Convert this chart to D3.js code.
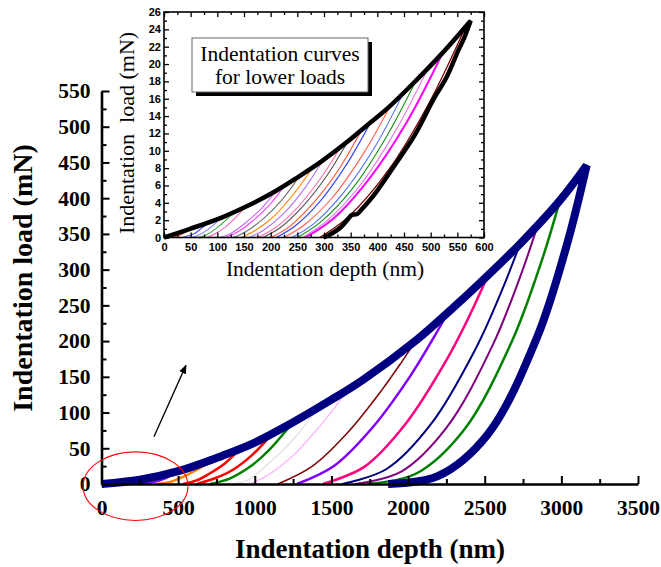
<!DOCTYPE html>
<html>
<head>
<meta charset="utf-8">
<script src="https://cdn.jsdelivr.net/npm/d3@7"></script>
<style>
  body { margin: 0; background: #fff; }
  svg { display: block; }
</style>
</head>
<body>
<svg id="chart" width="661" height="567"></svg>
<script>
// ---------- main chart: full-range indentation curves (depth nm, load mN) ----------
const mainTicksX = [0, 500, 1000, 1500, 2000, 2500, 3000, 3500];
const mainMinorX = [250, 750, 1250, 1750, 2250, 2750, 3250];
const mainTicksY = [0, 50, 100, 150, 200, 250, 300, 350, 400, 450, 500, 550];
const mainMinorY = [25, 75, 125, 175, 225, 275, 325, 375, 425, 475, 525];

// loading branch of the largest cycle
const mainLoading = [[0,0],[250,6],[500,18],[793,40],[1000,58],[1230,84],[1500,118],[1707,146],[2052,201],[2260,240],[2521,292],[2730,336],[2991,397],[3165,446]];
// unloading branch of the largest cycle (peak first)
const mainMaxUnload = [[3165,446],[3036,335],[2841,205],[2518,69],[2194,11],[1870,0]];

// unloading branches of the partial cycles, back to front
const mainUnloads = [
  [[960,0],[1066,10],[1250,40],[1420,80],[1540,112],[1600,132]],
  [[860,0],[950,5],[1066,24],[1250,62],[1393,100],[1440,110]],
  [[40,0],[100,1],[150,2.5],[190,4.5]],
  [[90,0],[160,2],[220,4],[270,7]],
  [[150,0],[210,1.5],[280,4.5],[340,9]],
  [[200,0],[270,2],[350,6],[420,13]],
  [[250,0],[330,2],[420,8],[500,18]],
  [[362,0],[450,3],[532,10],[640,22],[740,36]],
  [[533,0],[620,5],[708,15],[800,28],[890,46]],
  [[622,0],[740,8],[858,20],[980,40],[1100,67]],
  [[708,0],[840,8],[968,24],[1086,46],[1240,84]],
  [[1151,0],[1376,25],[1602,71],[1827,131],[1962,172],[2052,201]],
  [[1275,0],[1521,26],[1768,79],[2014,151],[2162,203],[2260,240]],
  [[1445,0],[1714,24],[1983,84],[2252,174],[2413,241],[2521,292]],
  [[1570,0],[1860,21],[2150,84],[2440,189],[2614,272],[2730,336]],
  [[1654,0],[1952,17],[2251,79],[2549,193],[2728,288],[2847,363]],
  [[1732,0],[2047,14],[2362,75],[2676,199],[2865,308],[2991,397]]
];
const mainColors = ["#ffb4ff","#e2e2e2","#c00000","#ff0000","#4040ff","#800080","#8000ff","#ff8000","#ff0000","#ff0000","#008000","#800000","#8000ff","#ff0080","#000080","#800080","#008000"];
const mainWidths = [1.3,1.3,1.5,2,1.5,2,2,2.5,2.5,2.5,2.5,1.5,2.5,2.5,2,2,2.5];

// ---------- inset: low-load curves ----------
const insetTicksX = [0,50,100,150,200,250,300,350,400,450,500,550,600];
const insetMinorX = [25,75,125,175,225,275,325,375,425,475,525,575];
const insetTicksY = [0,2,4,6,8,10,12,14,16,18,20,22,24,26];
const insetMinorY = [1,3,5,7,9,11,13,15,17,19,21,23,25];

const insetLoading = [[0,0],[49,1.0],[108,2.3],[155,3.6],[208,5.3],[252,7.0],[298,8.9],[343,11.0],[386,13.2],[421,15.0],[471,18.0],[521,21.2],[575,25]];
const insetMaxUnload = [[575,25],[562,22.9],[552,21.6],[530,18.5],[505,15.9],[470,11.8],[430,8.1],[395,5.0],[370,3.2],[362,2.7],[352,2.6],[346,2.2],[330,1.1],[310,0.3],[299,0]];

const insetUnloads = [
  [[15,0],[22,0.1],[31,0.3],[40,0.6],[49,1.0]],
  [[35,0],[45,0.2],[58,0.5],[71,1.1],[83,1.7]],
  [[50,0],[62,0.2],[77,0.7],[94,1.5],[108,2.3]],
  [[65,0],[79,0.3],[97,1.0],[116,2.0],[133,3.1]],
  [[80,0],[95,0.4],[115,1.2],[136,2.4],[155,3.7]],
  [[105,0],[126,0.5],[153,1.7],[182,3.3],[208,5.2]],
  [[115,0],[137,0.6],[166,1.9],[197,3.7],[224,5.8]],
  [[130,0],[154,0.7],[187,2.2],[222,4.4],[252,6.9]],
  [[145,0],[171,0.8],[207,2.5],[244,5.1],[277,7.9]],
  [[160,0],[188,0.9],[225,2.8],[264,5.7],[298,8.9]],
  [[175,0],[206,1.0],[248,3.3],[291,6.6],[330,10.3]],
  [[185,0],[217,1.1],[259,3.5],[304,7.0],[343,10.9]],
  [[200,0],[234,1.2],[279,3.9],[326,7.7],[368,12.1]],
  [[210,0],[245,1.3],[293,4.2],[342,8.4],[386,13.1]],
  [[225,0],[264,1.5],[317,4.7],[372,9.5],[421,14.8]],
  [[240,0],[281,1.6],[337,5.2],[395,10.4],[446,16.3]],
  [[250,0],[294,1.8],[354,5.7],[416,11.5],[471,17.9]],
  [[260,0],[307,2.0],[370,6.2],[436,12.5],[495,19.5]],
  [[265,0],[316,2.1],[385,6.8],[457,13.5],[521,21.1]],
  [[292,0],[346,2.4],[420,7.7],[496,15.4],[564,24.1]]
];
const insetColors = ["#ff5050","#5050ff","#9090ff","#40a040","#ff60c0","#c070e0","#ff40ff","#707070","#ff8000","#b070ff","#ff70b0","#505050","#ff5030","#3040ff","#ff6050","#5070ff","#109010","#e070e0","#ff00ff","#800000"];
const insetWidths = [1.1,1.1,1.1,1.1,1.1,1.1,1.1,1.1,1.1,1.1,1.1,1.1,1.1,1.1,1.1,1.1,1.1,1.1,2,1.3];

// ---------- drawing ----------
const serif = "'Liberation Serif','Times New Roman',Times,serif";
const sans = "'Liberation Sans',Arial,Helvetica,sans-serif";
const svg = d3.select("#chart");

const x = d3.scaleLinear().domain([0, 3500]).range([101.5, 638]);
const y = d3.scaleLinear().domain([0, 550]).range([484, 91]);
const mainLine = d3.line().x(d => x(d[0])).y(d => y(d[1])).curve(d3.curveCatmullRom.alpha(0.5));

const gMain = svg.append("g");
mainUnloads.forEach((pts, i) => {
  gMain.append("path").attr("d", mainLine(pts)).attr("fill", "none")
    .attr("stroke", mainColors[i]).attr("stroke-width", mainWidths[i]);
});
// largest cycle drawn last, as one path with a sharp corner at the peak
gMain.append("path")
  .attr("d", mainLine(mainLoading) + mainLine(mainMaxUnload).replace(/^M/, "L"))
  .attr("fill", "none").attr("stroke", "#000080").attr("stroke-width", 8)
  .attr("stroke-linejoin", "miter").attr("stroke-miterlimit", 3);

// main axes, ticks pointing inward
function styleAxis(g, lw) {
  g.select(".domain").attr("stroke", "#000").attr("stroke-width", lw);
  g.selectAll(".tick line").attr("stroke", "#000").attr("stroke-width", 2);
}
const xAxisG = gMain.append("g").attr("transform", `translate(0,${y(0)})`)
  .call(d3.axisBottom(x).tickValues(mainTicksX).tickSizeInner(-8).tickSizeOuter(0).tickPadding(16).tickFormat(d3.format("d")));
styleAxis(xAxisG, 2.6);
gMain.append("g").attr("transform", `translate(0,${y(0)})`)
  .call(d3.axisBottom(x).tickValues(mainMinorX).tickSizeInner(-5).tickSizeOuter(0).tickFormat(""))
  .call(g => { g.select(".domain").remove(); g.selectAll(".tick line").attr("stroke", "#000").attr("stroke-width", 2); });

const yAxisG = gMain.append("g").attr("transform", `translate(${x(0)},0)`)
  .call(d3.axisLeft(y).tickValues(mainTicksY).tickSizeInner(-8).tickSizeOuter(0).tickPadding(11).tickFormat(d3.format("d")));
styleAxis(yAxisG, 2.6);
gMain.append("g").attr("transform", `translate(${x(0)},0)`)
  .call(d3.axisLeft(y).tickValues(mainMinorY).tickSizeInner(-5).tickSizeOuter(0).tickFormat(""))
  .call(g => { g.select(".domain").remove(); g.selectAll(".tick line").attr("stroke", "#000").attr("stroke-width", 2); });

[xAxisG, yAxisG].forEach(g => g.selectAll(".tick text")
  .attr("font-family", serif).attr("font-weight", "bold").attr("font-size", 21.5).attr("fill", "#000"));

svg.append("text").attr("x", 370).attr("y", 558).attr("text-anchor", "middle")
  .attr("font-family", serif).attr("font-weight", "bold").attr("font-size", 27)
  .text("Indentation depth (nm)");
svg.append("text").attr("transform", "translate(32,278) rotate(-90)").attr("text-anchor", "middle")
  .attr("font-family", serif).attr("font-weight", "bold").attr("font-size", 28)
  .text("Indentation load (mN)");

// arrow pointing from the low-load region up to the inset
const defs = svg.append("defs");
defs.append("marker").attr("id", "head").attr("viewBox", "0 0 10 10").attr("refX", 9).attr("refY", 5)
  .attr("markerWidth", 9).attr("markerHeight", 9).attr("markerUnits", "userSpaceOnUse").attr("orient", "auto")
  .append("path").attr("d", "M0,1 L10,5 L0,9 Z").attr("fill", "#000");
svg.append("line").attr("x1", x(342)).attr("y1", y(66)).attr("x2", x(551)).attr("y2", y(166))
  .attr("stroke", "#000").attr("stroke-width", 1.3).attr("marker-end", "url(#head)");

// ellipse around the low-load region
svg.append("ellipse").attr("cx", x(222)).attr("cy", y(-3))
  .attr("rx", x(222 + 342) - x(222)).attr("ry", y(-3) - y(45))
  .attr("fill", "none").attr("stroke", "#ff0000").attr("stroke-width", 1.1);

// ---------- inset ----------
const xi = d3.scaleLinear().domain([0, 600]).range([164, 484]);
const yi = d3.scaleLinear().domain([0, 26]).range([237.5, 12]);
const insetLine = d3.line().x(d => xi(d[0])).y(d => yi(d[1])).curve(d3.curveCatmullRom.alpha(0.5));

const gIn = svg.append("g");
gIn.append("rect").attr("x", xi(0)).attr("y", yi(26)).attr("width", xi(600) - xi(0)).attr("height", yi(0) - yi(26))
  .attr("fill", "#fff");

insetUnloads.forEach((pts, i) => {
  gIn.append("path").attr("d", insetLine(pts)).attr("fill", "none")
    .attr("stroke", insetColors[i]).attr("stroke-width", insetWidths[i]);
});
gIn.append("path")
  .attr("d", insetLine(insetLoading) + insetLine(insetMaxUnload).replace(/^M/, "L"))
  .attr("fill", "none").attr("stroke", "#000").attr("stroke-width", 4.5)
  .attr("stroke-linejoin", "miter").attr("stroke-miterlimit", 3);

function insetAxis(axisGen, transform, values, size, labels) {
  const g = gIn.append("g").attr("transform", transform)
    .call(axisGen.tickValues(values).tickSizeInner(size).tickSizeOuter(0)
      .tickPadding(labels ? 4 : 0).tickFormat(labels ? d3.format("d") : ""));
  g.select(".domain").remove();
  g.selectAll(".tick line").attr("stroke", "#000").attr("stroke-width", 1.3);
  if (labels) g.selectAll(".tick text").attr("font-family", sans).attr("font-weight", "bold")
    .attr("font-size", 11).attr("fill", "#000");
  return g;
}
insetAxis(d3.axisBottom(xi), `translate(0,${yi(0)})`, insetTicksX, -5, true).selectAll(".tick text").attr("y", 6);
insetAxis(d3.axisBottom(xi), `translate(0,${yi(0)})`, insetMinorX, -3, false);
insetAxis(d3.axisTop(xi), `translate(0,${yi(26)})`, insetTicksX, -5, false);
insetAxis(d3.axisTop(xi), `translate(0,${yi(26)})`, insetMinorX, -3, false);
insetAxis(d3.axisLeft(yi), `translate(${xi(0)},0)`, insetTicksY, -5, true).selectAll(".tick text").attr("x", -3);
insetAxis(d3.axisLeft(yi), `translate(${xi(0)},0)`, insetMinorY, -3, false);
insetAxis(d3.axisRight(yi), `translate(${xi(600)},0)`, insetTicksY, -5, false);
insetAxis(d3.axisRight(yi), `translate(${xi(600)},0)`, insetMinorY, -3, false);

gIn.append("rect").attr("x", xi(0)).attr("y", yi(26)).attr("width", xi(600) - xi(0)).attr("height", yi(0) - yi(26))
  .attr("fill", "none").attr("stroke", "#000").attr("stroke-width", 1.6);

gIn.append("text").attr("x", 325).attr("y", 275.5).attr("text-anchor", "middle")
  .attr("font-family", serif).attr("font-size", 21.5).text("Indentation depth (nm)");
gIn.append("text").attr("transform", "translate(134,133) rotate(-90)").attr("text-anchor", "middle")
  .attr("font-family", serif).attr("font-size", 22).style("white-space", "pre")
  .text("Indentation  load (mN)");

// caption box with drop shadow
gIn.append("rect").attr("x", 196).attr("y", 42).attr("width", 176).attr("height", 54).attr("fill", "#000");
gIn.append("rect").attr("x", 192).attr("y", 38).attr("width", 176).attr("height", 54)
  .attr("fill", "#fff").attr("stroke", "#666").attr("stroke-width", 1);
gIn.append("text").attr("x", 280).attr("y", 61).attr("text-anchor", "middle")
  .attr("font-family", serif).attr("font-size", 21.5).text("Indentation curves");
gIn.append("text").attr("x", 280).attr("y", 84).attr("text-anchor", "middle")
  .attr("font-family", serif).attr("font-size", 21.5).text("for lower loads");
</script>
</body>
</html>
